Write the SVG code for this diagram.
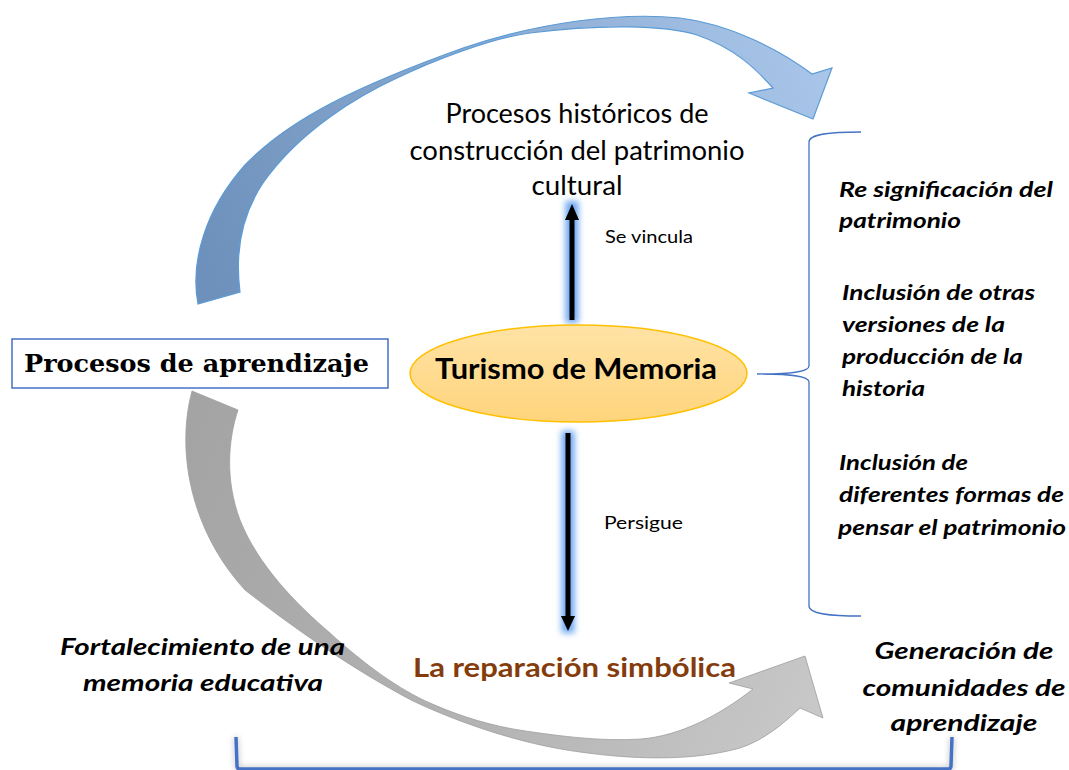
<svg xmlns="http://www.w3.org/2000/svg" width="1069" height="770" viewBox="0 0 1069 770">
<defs>
<linearGradient id="gBlue" gradientUnits="userSpaceOnUse" x1="200" y1="300" x2="830" y2="70">
<stop offset="0" stop-color="#6c90bb"/>
<stop offset="0.5" stop-color="#8aa9cf"/>
<stop offset="1" stop-color="#a9c6ea"/>
</linearGradient>
<linearGradient id="gGray" gradientUnits="userSpaceOnUse" x1="180" y1="400" x2="820" y2="700">
<stop offset="0" stop-color="#a3a3a3"/>
<stop offset="0.6" stop-color="#b4b4b4"/>
<stop offset="1" stop-color="#c8c8c8"/>
</linearGradient>
<linearGradient id="gEll" x1="0" y1="0" x2="0" y2="1">
<stop offset="0" stop-color="#ffe3a6"/>
<stop offset="1" stop-color="#ffd47c"/>
</linearGradient>
<filter id="glow" filterUnits="userSpaceOnUse" x="0" y="0" width="1069" height="770">
<feGaussianBlur stdDeviation="3.2"/>
</filter>
<filter id="shadow" x="-0.05" y="-2" width="1.1" height="5">
<feGaussianBlur in="SourceAlpha" stdDeviation="3"/>
<feComponentTransfer><feFuncA type="linear" slope="0.3"/></feComponentTransfer>
<feMerge><feMergeNode/><feMergeNode in="SourceGraphic"/></feMerge>
</filter>
<style>
.cal{font-family:Lato,"Open Sans","Liberation Sans",sans-serif;}
.bi{font-family:Lato,"Open Sans","Liberation Sans",sans-serif;font-weight:bold;font-style:italic;fill:#000;}
.lbl{font-family:Lato,"Open Sans","Liberation Sans",sans-serif;font-size:17px;fill:#000;}
.glowline{stroke:#6aa6f2;stroke-width:13;fill:none;filter:url(#glow);}
.shaft{stroke:#000;stroke-width:5;fill:none;}
</style>
</defs>
<rect width="1069" height="770" fill="#ffffff"/>

<g id="connectors">
<path id="arrow-top" d="M198,304 C190,262 205,210 245,165 C290,118 360,85 463,48 C540,22 620,12 680,18 C730,24 780,50 812,74 L832,68 L813,119 L749,93 L773,88 C757,70 735,48 697,35 C665,25 600,24 530,33 C490,38 430,62 397,78 C360,95 300,130 263,183 C245,210 234,245 240,292 Z" fill="url(#gBlue)" stroke="#5b9bd5" stroke-width="1.2"/>
<path id="arrow-bottom" d="M192,391 C176,450 190,530 245,590 C290,625 350,668 413,701 C460,723 520,744 580,752 C630,759 690,762 740,748 C765,740 785,722 800,708 L823,718 L805,656 L729,683 L753,689 C720,715 680,736 641,739 C600,742 550,735 513,729 C480,723 450,712 430,703 C400,690 365,665 330,633 C295,603 258,565 240,520 C225,480 228,440 238,410 Z" fill="url(#gGray)" stroke="#9e9e9e" stroke-width="0.8"/>
<g id="arrow-up">
<path class="glowline" d="M572,201 L572,323"/>
<path class="shaft" d="M572,320 L572,216"/>
<polygon points="572,204 565,220 579,220" fill="#000"/>
</g>
<g id="arrow-down">
<path class="glowline" d="M568,431 L568,633"/>
<path class="shaft" d="M568,433 L568,618"/>
<polygon points="561,616 575,616 568,631" fill="#000"/>
</g>
<path id="brace-right" d="M861,132 C830,132 809,134 809,142 L809,366 C809,372 790,374 757,374 C790,374 809,376 809,382 L809,606 C809,614 830,616 861,616" fill="none" stroke="#4472c4" stroke-width="1.3"/>
<path id="brace-bottom" d="M236,737 L237,766 Q237,769 240,769 L948,769 Q951,769 951,766 L952,737" fill="none" stroke="#4472c4" stroke-width="3.5" filter="url(#shadow)"/>
</g>

<g id="node-aprendizaje">
<rect x="12" y="339" width="376" height="49" fill="#ffffff" stroke="#4472c4" stroke-width="1.5"/>
<text x="24" y="372" font-family="'DejaVu Serif','Liberation Serif',serif" font-weight="bold" font-size="25" textLength="345" lengthAdjust="spacingAndGlyphs">Procesos de aprendizaje</text>
</g>

<g id="node-turismo">
<ellipse cx="578.5" cy="373.5" rx="168.5" ry="48.5" fill="url(#gEll)" stroke="#ffc000" stroke-width="1.5"/>
<text class="cal" x="576" y="379" font-size="29" font-weight="bold" text-anchor="middle" textLength="282" lengthAdjust="spacingAndGlyphs">Turismo de Memoria</text>
</g>

<g id="node-procesos-historicos" class="cal" font-size="26" text-anchor="middle">
<text x="577" y="123" textLength="263" lengthAdjust="spacingAndGlyphs">Procesos históricos de</text>
<text x="577" y="160" textLength="335" lengthAdjust="spacingAndGlyphs">construcción del patrimonio</text>
<text x="577" y="195" textLength="91" lengthAdjust="spacingAndGlyphs">cultural</text>
</g>

<g id="labels">
<text class="lbl" x="605" y="243" textLength="88" lengthAdjust="spacingAndGlyphs">Se vincula</text>
<text class="lbl" x="604" y="529" textLength="79" lengthAdjust="spacingAndGlyphs">Persigue</text>
</g>

<g id="node-reparacion">
<text class="cal" x="574.5" y="677" font-size="27" font-weight="bold" fill="#843c0c" text-anchor="middle" textLength="323" lengthAdjust="spacingAndGlyphs">La reparación simbólica</text>
</g>

<g id="node-resignificacion" class="bi" font-size="21">
<text x="839" y="197" textLength="214" lengthAdjust="spacingAndGlyphs">Re significación del</text>
<text x="839" y="228" textLength="122" lengthAdjust="spacingAndGlyphs">patrimonio</text>
</g>

<g id="node-inclusion-versiones" class="bi" font-size="21">
<text x="842" y="300" textLength="193" lengthAdjust="spacingAndGlyphs">Inclusión de otras</text>
<text x="842" y="332" textLength="163" lengthAdjust="spacingAndGlyphs">versiones de la</text>
<text x="842" y="364" textLength="181" lengthAdjust="spacingAndGlyphs">producción de la</text>
<text x="842" y="396" textLength="83" lengthAdjust="spacingAndGlyphs">historia</text>
</g>

<g id="node-inclusion-formas" class="bi" font-size="21">
<text x="839" y="470" textLength="129" lengthAdjust="spacingAndGlyphs">Inclusión de</text>
<text x="839" y="502" textLength="225" lengthAdjust="spacingAndGlyphs">diferentes formas de</text>
<text x="838" y="535" textLength="228" lengthAdjust="spacingAndGlyphs">pensar el patrimonio</text>
</g>

<g id="node-fortalecimiento" class="bi" font-size="23" text-anchor="middle">
<text x="202.5" y="655" textLength="285" lengthAdjust="spacingAndGlyphs">Fortalecimiento de una</text>
<text x="203" y="691" textLength="240" lengthAdjust="spacingAndGlyphs">memoria educativa</text>
</g>

<g id="node-generacion" class="bi" font-size="23" text-anchor="middle">
<text x="964" y="659" textLength="179" lengthAdjust="spacingAndGlyphs">Generación de</text>
<text x="964" y="696" textLength="203" lengthAdjust="spacingAndGlyphs">comunidades de</text>
<text x="964" y="731" textLength="147" lengthAdjust="spacingAndGlyphs">aprendizaje</text>
</g>
</svg>
